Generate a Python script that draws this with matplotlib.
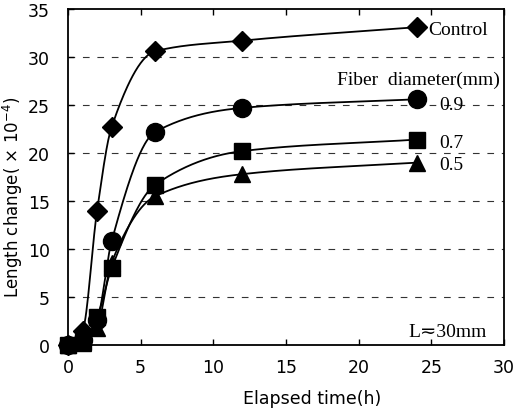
import numpy as np
import matplotlib
matplotlib.use("Agg")
import matplotlib.pyplot as plt

time_h = [0, 1, 2, 3, 6, 12, 24]
control = [0, 1.5, 14.0, 22.7, 30.6, 31.7, 33.1]
d09 = [0, 0.5, 2.6, 10.8, 22.2, 24.7, 25.6]
d07 = [0, 0.3, 2.9, 8.0, 16.7, 20.2, 21.4]
d05 = [0, 0.2, 1.8, 8.6, 15.5, 17.8, 19.0]
series_labels = ["Control", "0.9", "0.7", "0.5"]
xticks = [0, 5, 10, 15, 20, 25, 30]
yticks = [0, 5, 10, 15, 20, 25, 30, 35]


def pchip(x, y, xs):
    x = np.asarray(x, float); y = np.asarray(y, float)
    h = np.diff(x); d = np.diff(y) / h
    n = len(x); m = np.zeros(n)
    for k in range(1, n - 1):
        if d[k - 1] * d[k] > 0:
            w1 = 2 * h[k] + h[k - 1]; w2 = h[k] + 2 * h[k - 1]
            m[k] = (w1 + w2) / (w1 / d[k - 1] + w2 / d[k])
    m[0] = d[0]; m[-1] = d[-1]
    ys = np.empty_like(xs)
    for i, xv in enumerate(xs):
        k = min(np.searchsorted(x, xv, side="right") - 1, n - 2)
        t = (xv - x[k]) / h[k]
        h00 = 2 * t**3 - 3 * t**2 + 1; h10 = t**3 - 2 * t**2 + t
        h01 = -2 * t**3 + 3 * t**2; h11 = t**3 - t**2
        ys[i] = h00 * y[k] + h10 * h[k] * m[k] + h01 * y[k + 1] + h11 * h[k] * m[k + 1]
    return ys


fig = plt.figure(figsize=(5.15, 4.14), dpi=100)
ax = fig.add_axes([0.132, 0.164, 0.847, 0.812])

for yv in yticks[1:-1]:
    ax.axhline(yv, color="0.2", lw=0.8, ls=(0, (6, 7)), zorder=0)

xs = np.linspace(0, 24, 400)
for vals, mk, ms in [(control, "D", 10), (d09, "o", 13), (d07, "s", 12), (d05, "^", 12)]:
    ax.plot(xs, pchip(time_h, vals, xs), color="black", lw=1.3, zorder=2)
    ax.plot(time_h, vals, ls="none", marker=mk, ms=ms, color="black", zorder=3,
            clip_on=False)

ax.set_xlim(0, 30)
ax.set_ylim(0, 35)
ax.set_xticks(xticks)
ax.set_yticks(yticks)
for sp in ax.spines.values():
    sp.set_linewidth(1.3)
ax.tick_params(direction="in", length=4, width=1, labelsize=12.5,
               top=True, right=False)
ax.tick_params(axis="x", pad=9)
ax.tick_params(axis="y", pad=13)
for lab in ax.get_xticklabels() + ax.get_yticklabels():
    lab.set_family("DejaVu Sans")

ax.set_xlabel("Elapsed time(h)", fontsize=12.5, family="DejaVu Sans")
ax.xaxis.set_label_coords(0.56, -0.13)
ax.set_ylabel("Length change( \u00d7 10$^{-4}$)", fontsize=12, family="DejaVu Sans")
ax.yaxis.set_label_coords(-0.098, 0.443)

serif = ["Liberation Serif", "DejaVu Serif"]
fs = 14
ax.text(24.8, 32.9, series_labels[0], fontsize=fs, family=serif, va="center")
ax.text(29.7, 27.7, "Fiber  diameter(mm)", fontsize=fs, family=serif, ha="right", va="center")
ax.text(25.5, 25.1, series_labels[1], fontsize=fs, family=serif, va="center")
ax.text(25.5, 21.1, series_labels[2], fontsize=fs, family=serif, va="center")
ax.text(25.5, 18.85, series_labels[3], fontsize=fs, family=serif, va="center")
ax.text(28.8, 1.4, "L\u224230mm", fontsize=fs, family=serif, ha="right", va="center")

fig.savefig("out.png", dpi=100)
